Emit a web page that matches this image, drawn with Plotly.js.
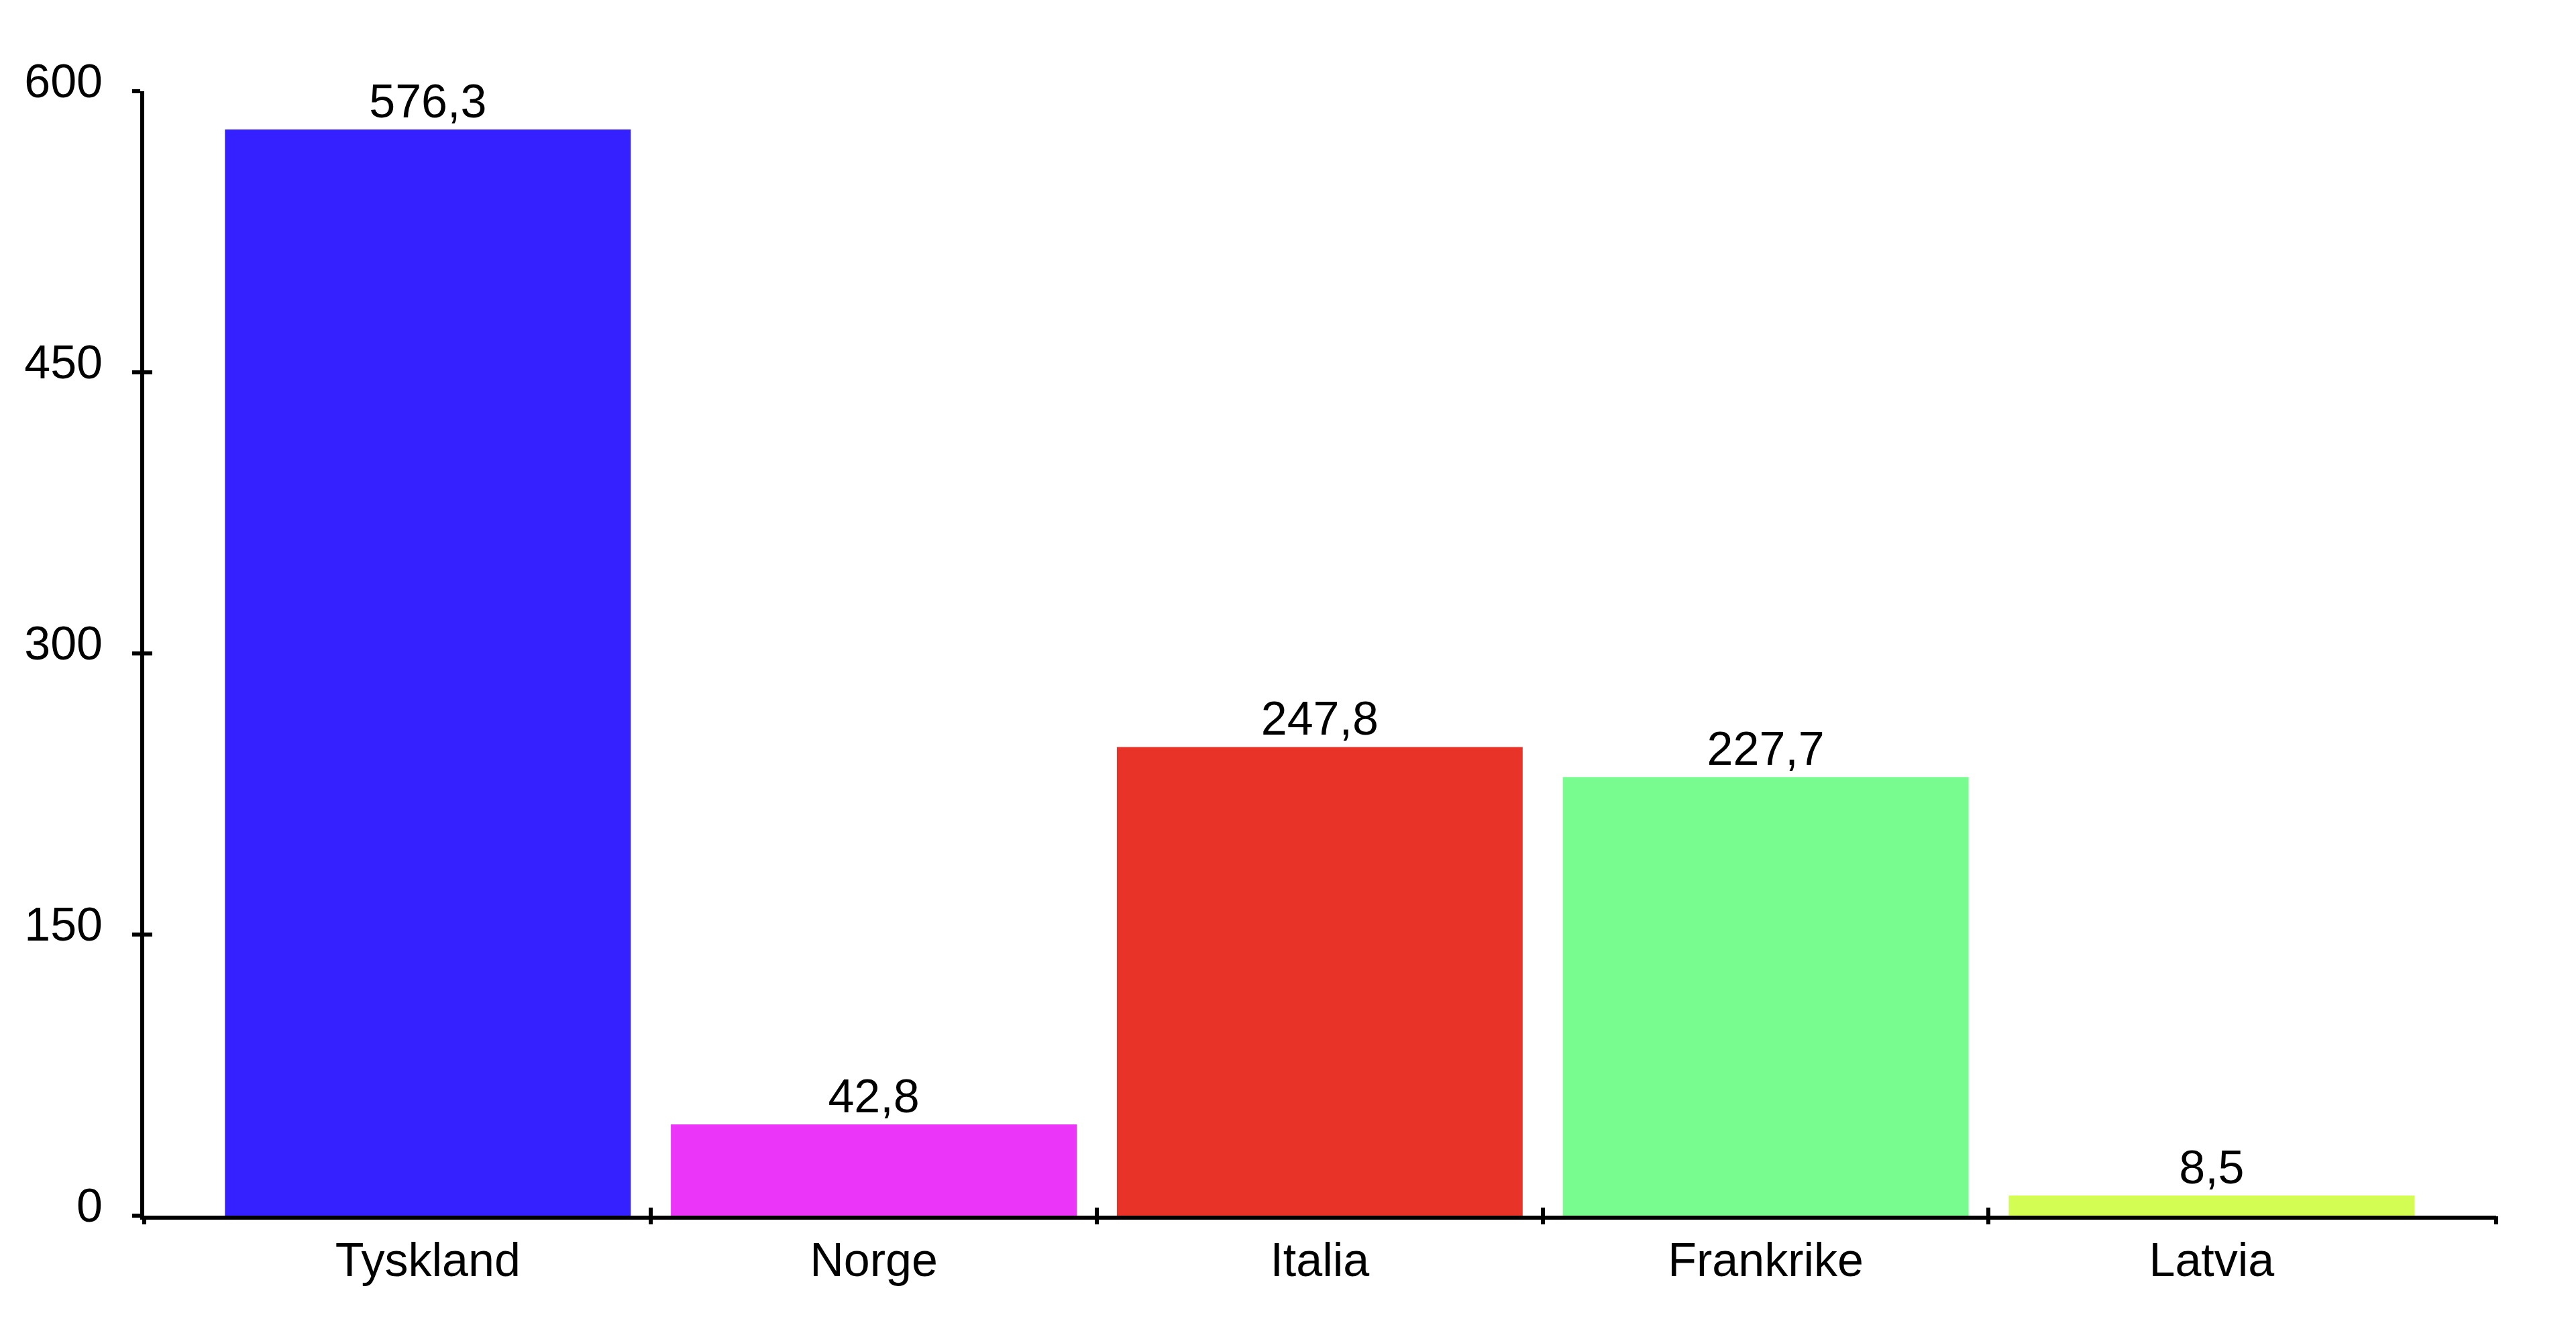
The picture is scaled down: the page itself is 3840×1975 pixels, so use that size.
<!DOCTYPE html>
<html>
<head>
<meta charset="utf-8">
<script src="https://cdn.plot.ly/plotly-3.0.1.min.js"></script>
<style>
  html, body { margin: 0; padding: 0; background: #ffffff; }
  #chart { width: 3840px; height: 1975px; }
</style>
</head>
<body>
<div id="chart"></div>
<script>
// ---- data ----
const categories = ["Tyskland", "Norge", "Italia", "Frankrike", "Latvia"];
const barHeights = [579.6, 48.7, 250.1, 234.0, 10.7];      // bar heights as drawn
const printedValues = [576.3, 42.8, 247.8, 227.7, 8.5];    // values printed above bars
const barColors = ["#3520FF", "#EB35F8", "#E83328", "#78FC90", "#D3FD52"];
const yTickVals = [0, 150, 300, 450, 600];

// ---- layout constants ----
const FONT = '"Liberation Sans", Arial, Helvetica, sans-serif';
const xRange = [-0.636, 4.638];
const yRange = [0, 600];
const boundaryTicks = [xRange[0]];
for (let i = 1; i < categories.length; i++) boundaryTicks.push(i - 0.5);
boundaryTicks.push(xRange[1]);

const barTrace = {
  type: "bar",
  x: categories,
  y: barHeights,
  text: printedValues,
  texttemplate: "%{text:.1f}",
  textposition: "outside",
  cliponaxis: false,
  textfont: { family: FONT, size: 70, color: "#000000" },
  marker: { color: barColors, line: { width: 0 } },
  hoverinfo: "skip"
};

// empty helper traces so the tick-only overlay axes get drawn
function helper(xa, ya) {
  return { type: "scatter", mode: "markers", x: [], y: [], xaxis: xa, yaxis: ya,
           hoverinfo: "skip", showlegend: false };
}

const tickAxisBase = {
  type: "linear",
  range: xRange,
  overlaying: "x",
  anchor: "y",
  side: "bottom",
  showline: false,
  showgrid: false,
  zeroline: false,
  showticklabels: false,
  tickmode: "array",
  tickvals: boundaryTicks,
  ticklen: 12,
  tickwidth: 6,
  tickcolor: "#000000",
  fixedrange: true
};

const layout = {
  width: 3840,
  height: 1975,
  margin: { l: 215, r: 119, t: 136, b: 163 },
  paper_bgcolor: "#ffffff",
  plot_bgcolor: "#ffffff",
  showlegend: false,
  separators: ", ",
  bargap: 0.09,
  font: { family: FONT, size: 70, color: "#000000" },
  xaxis: {
    type: "category",
    range: xRange,
    showline: true,
    linewidth: 6,
    linecolor: "#000000",
    showgrid: false,
    zeroline: false,
    ticks: "",
    tickfont: { family: FONT, size: 70, color: "#000000" },
    ticklabelstandoff: 0,
    fixedrange: true
  },
  xaxis2: Object.assign({}, tickAxisBase, { ticks: "outside" }),
  xaxis3: Object.assign({}, tickAxisBase, { ticks: "inside" }),
  yaxis: {
    range: yRange,
    showline: true,
    linewidth: 6,
    linecolor: "#000000",
    showgrid: false,
    zeroline: false,
    tickmode: "array",
    tickvals: yTickVals,
    ticks: "outside",
    ticklen: 12,
    tickwidth: 6,
    tickcolor: "#000000",
    tickfont: { family: FONT, size: 70, color: "#000000" },
    ticklabelstandoff: 30,
    ticklabelshift: -16,
    fixedrange: true
  },
  yaxis2: {
    range: yRange,
    overlaying: "y",
    anchor: "x",
    side: "left",
    showline: false,
    showgrid: false,
    zeroline: false,
    showticklabels: false,
    tickmode: "array",
    tickvals: yTickVals,
    ticks: "inside",
    ticklen: 12,
    tickwidth: 6,
    tickcolor: "#000000",
    fixedrange: true
  }
};

Plotly.newPlot("chart",
  [barTrace, helper("x2", "y"), helper("x3", "y"), helper("x", "y2")],
  layout, { displayModeBar: false, staticPlot: true });
</script>
</body>
</html>
